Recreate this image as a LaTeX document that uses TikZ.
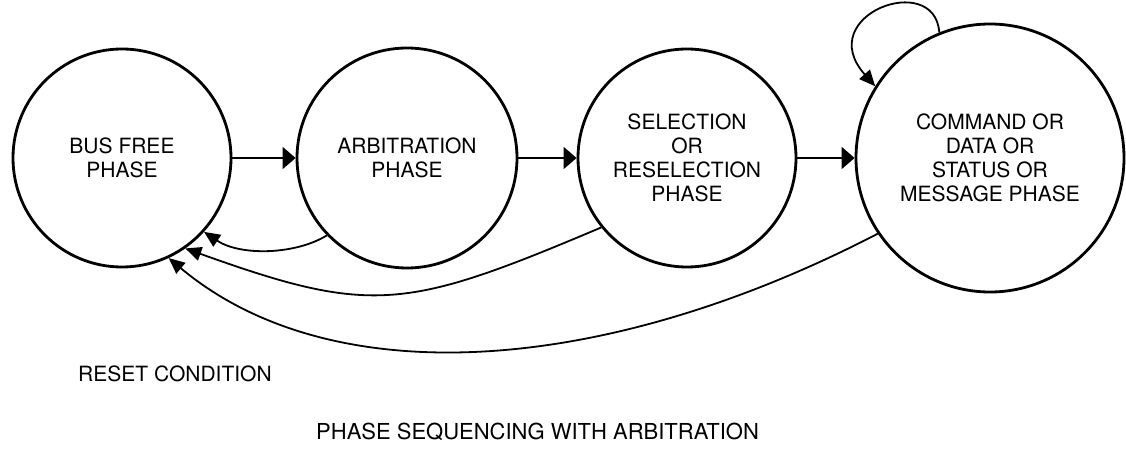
\documentclass[tikz,border=0pt]{standalone}
\usepackage{fontspec}
\setmainfont{TeX Gyre Heros}
\usetikzlibrary{arrows.meta}
\begin{document}
\begin{tikzpicture}[x=1pt,y=1pt,
  phase/.style={circle,draw,line width=2.8pt,inner sep=0pt,align=center,
    font=\fontsize{21}{24}\selectfont},
  link/.style={line width=1.8pt,-{Triangle[length=13pt,width=22pt]}},
  ret/.style={line width=1.8pt,-{Triangle[length=16pt,width=14pt]}},
  lbl/.style={font=\fontsize{21}{24}\selectfont,inner sep=0pt,anchor=base west}]
\useasboundingbox (0,0) rectangle (1126,-449);
\node[phase,minimum size=218pt] (c1) at (122,-158) {BUS FREE\\PHASE};
\node[phase,minimum size=220pt] (c2) at (407,-158) {ARBITRATION\\PHASE};
\node[phase,minimum size=218pt] (c3) at (687,-158) {SELECTION\\OR\\RESELECTION\\PHASE};
\node[phase,minimum size=268pt] (c4) at (990,-158) {COMMAND OR\\DATA OR\\STATUS OR\\MESSAGE PHASE};
\draw[link] (c1) -- (c2);
\draw[link] (c2) -- (c3);
\draw[link] (c3) -- (c4);
\draw[ret] (c4.112.6) .. controls (935,30) and (812,-15) .. (c4.148.7);
\draw[ret] (c2.-136) .. controls (295,-255) and (240,-256) .. (c1.-42);
\draw[ret] (c3.-141) .. controls (406,-310) and (372,-315.5) .. (c1.-55);
\draw[ret] (c4.-146.5) .. controls (601,-377) and (330.5,-393.4) .. (c1.-65);
\node[lbl] (reset) at (78,-381) {RESET CONDITION};
\node[lbl,font=\fontsize{22}{24}\selectfont] (title) at (316,-439) {PHASE SEQUENCING WITH ARBITRATION};
\end{tikzpicture}
\end{document}
